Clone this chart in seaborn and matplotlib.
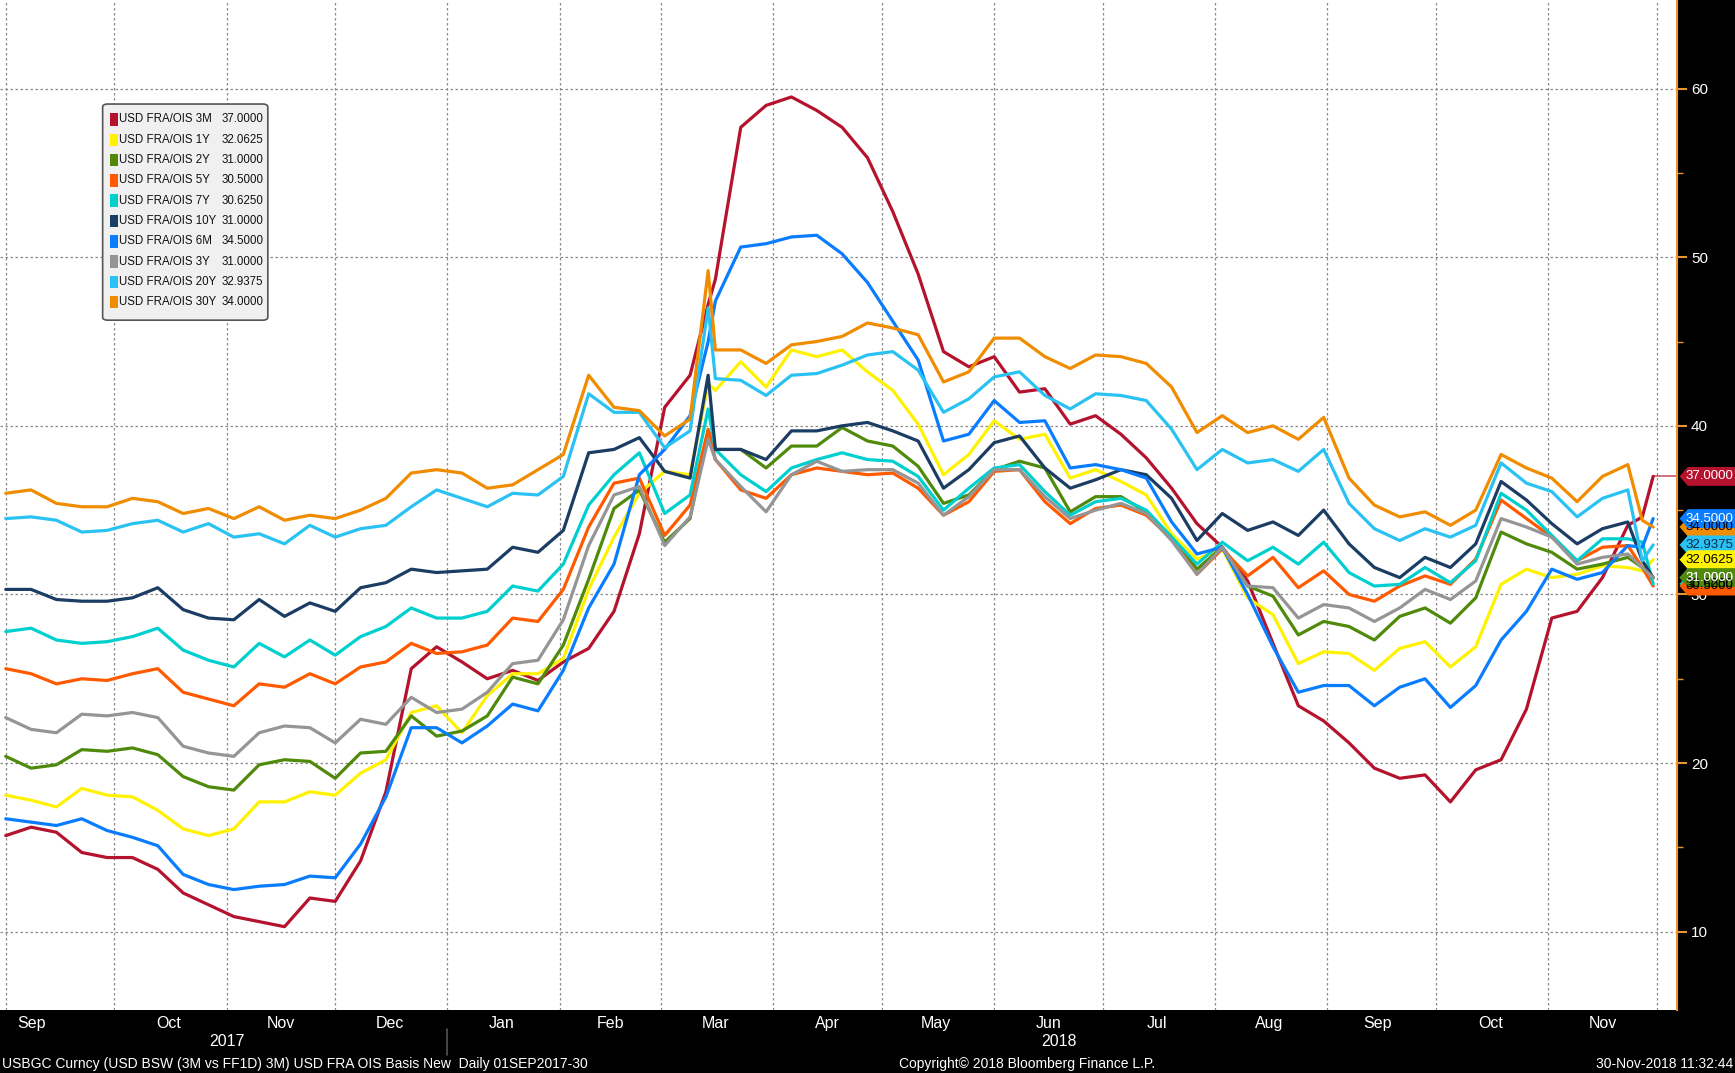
import pandas as pd
import seaborn as sns
import matplotlib.pyplot as plt
import matplotlib.dates as mdates
from matplotlib.patches import Polygon, FancyBboxPatch, Rectangle

# weekly readings (bp), 01SEP2017 - 30NOV2018
dates = [
    '2017-09-01', '2017-09-08', '2017-09-15', '2017-09-22', '2017-09-29',
    '2017-10-06', '2017-10-13', '2017-10-20', '2017-10-27', '2017-11-03',
    '2017-11-10', '2017-11-17', '2017-11-24', '2017-12-01', '2017-12-08',
    '2017-12-15', '2017-12-22', '2017-12-29', '2018-01-05', '2018-01-12',
    '2018-01-19', '2018-01-26', '2018-02-02', '2018-02-09', '2018-02-16',
    '2018-02-23', '2018-03-02', '2018-03-09', '2018-03-14', '2018-03-16',
    '2018-03-23', '2018-03-30', '2018-04-06', '2018-04-13', '2018-04-20',
    '2018-04-27', '2018-05-04', '2018-05-11', '2018-05-18', '2018-05-25',
    '2018-06-01', '2018-06-08', '2018-06-15', '2018-06-22', '2018-06-29',
    '2018-07-06', '2018-07-13', '2018-07-20', '2018-07-27', '2018-08-03',
    '2018-08-10', '2018-08-17', '2018-08-24', '2018-08-31', '2018-09-07',
    '2018-09-14', '2018-09-21', '2018-09-28', '2018-10-05', '2018-10-12',
    '2018-10-19', '2018-10-26', '2018-11-02', '2018-11-09', '2018-11-16',
    '2018-11-23', '2018-11-27', '2018-11-30',
]

fra_3m = [15.7, 16.2, 15.9, 14.7, 14.4, 14.4, 13.7, 12.3, 11.6, 10.9, 10.6, 10.3,
          12.0, 11.8, 14.2, 18.3, 25.6, 26.9, 26.0, 25.0, 25.5, 24.9, 26.0,
          26.8, 29.0, 33.6, 41.1, 43.0, 47.2, 48.7, 57.7, 59.0, 59.5, 58.7, 57.7, 55.9,
          52.7, 49.0, 44.4, 43.5, 44.1, 42.0, 42.2, 40.1, 40.6, 39.5, 38.1, 36.3, 34.2,
          32.8, 30.8, 27.1, 23.4, 22.5, 21.2, 19.7, 19.1, 19.3, 17.7,
          19.6, 20.2, 23.2, 28.6, 29.0, 31.0, 34.1, 34.6, 37.0]
fra_1y = [18.1, 17.8, 17.4, 18.5, 18.1, 18.0, 17.2, 16.1, 15.7, 16.1, 17.7, 17.7,
          18.3, 18.1, 19.4, 20.2, 23.0, 23.4, 21.8, 24.0, 25.3, 25.3, 26.2,
          30.3, 33.4, 36.0, 37.3, 37.1, 42.5, 42.1, 43.8, 42.3, 44.5, 44.1, 44.5, 43.2,
          42.1, 40.1, 37.1, 38.3, 40.3, 39.2, 39.5, 36.9, 37.4, 36.7, 35.9, 33.6, 32.1,
          32.7, 29.8, 28.8, 25.9, 26.6, 26.5, 25.5, 26.8, 27.2, 25.7,
          26.9, 30.6, 31.5, 31.0, 31.2, 31.7, 31.6, 31.4, 32.0625]
fra_2y = [20.4, 19.7, 19.9, 20.8, 20.7, 20.9, 20.5, 19.2, 18.6, 18.4, 19.9, 20.2,
          20.1, 19.1, 20.6, 20.7, 22.8, 21.6, 21.9, 22.8, 25.1, 24.7, 27.0,
          30.9, 35.1, 36.2, 33.1, 34.5, 39.7, 38.6, 38.6, 37.5, 38.8, 38.8, 39.9, 39.1,
          38.8, 37.6, 35.4, 35.9, 37.4, 37.9, 37.5, 34.9, 35.8, 35.8, 34.9, 33.4, 31.5,
          32.8, 30.5, 29.9, 27.6, 28.4, 28.1, 27.3, 28.7, 29.2, 28.3,
          29.8, 33.7, 33.0, 32.5, 31.5, 31.8, 32.2, 31.6, 31.0]
fra_5y = [25.6, 25.3, 24.7, 25.0, 24.9, 25.3, 25.6, 24.2, 23.8, 23.4, 24.7, 24.5,
          25.3, 24.7, 25.7, 26.0, 27.1, 26.5, 26.6, 27.0, 28.6, 28.4, 30.3,
          34.0, 36.6, 36.9, 33.5, 35.3, 39.8, 38.0, 36.2, 35.7, 37.1, 37.5, 37.3, 37.1,
          37.2, 36.3, 34.7, 35.5, 37.3, 37.4, 35.5, 34.2, 35.1, 35.3, 34.7, 33.3, 31.2,
          32.7, 31.1, 32.2, 30.4, 31.4, 30.0, 29.6, 30.5, 31.1, 30.6,
          32.1, 35.6, 34.5, 33.4, 32.0, 32.8, 32.9, 31.6, 30.5]
fra_7y = [27.8, 28.0, 27.3, 27.1, 27.2, 27.5, 28.0, 26.7, 26.1, 25.7, 27.1, 26.3,
          27.3, 26.4, 27.5, 28.1, 29.2, 28.6, 28.6, 29.0, 30.5, 30.2, 31.8,
          35.3, 37.1, 38.4, 34.8, 35.9, 41.0, 38.6, 37.1, 36.1, 37.5, 38.0, 38.4, 38.0,
          37.9, 37.0, 35.0, 36.3, 37.5, 37.7, 36.1, 34.7, 35.5, 35.7, 35.0, 33.4, 31.8,
          33.1, 32.0, 32.8, 31.8, 33.1, 31.3, 30.5, 30.6, 31.6, 30.7,
          32.0, 36.0, 35.0, 33.5, 32.0, 33.3, 33.3, 33.1, 30.625]
fra_10y = [30.3, 30.3, 29.7, 29.6, 29.6, 29.8, 30.4, 29.1, 28.6, 28.5, 29.7, 28.7,
           29.5, 29.0, 30.4, 30.7, 31.5, 31.3, 31.4, 31.5, 32.8, 32.5, 33.8,
           38.4, 38.6, 39.3, 37.3, 36.9, 43.0, 38.6, 38.6, 38.0, 39.7, 39.7, 40.0, 40.2,
           39.7, 39.1, 36.3, 37.4, 39.0, 39.4, 37.5, 36.3, 36.8, 37.4, 37.1, 35.7, 33.2,
           34.8, 33.8, 34.3, 33.5, 35.0, 33.0, 31.6, 31.0, 32.2, 31.6,
           33.0, 36.7, 35.6, 34.2, 33.0, 33.9, 34.3, 32.0, 31.0]
fra_6m = [16.7, 16.5, 16.3, 16.7, 16.0, 15.6, 15.1, 13.4, 12.8, 12.5, 12.7, 12.8,
          13.3, 13.2, 15.2, 18.0, 22.1, 22.1, 21.2, 22.2, 23.5, 23.1, 25.5,
          29.2, 31.8, 37.1, 38.6, 40.6, 45.0, 47.4, 50.6, 50.8, 51.2, 51.3, 50.2, 48.5,
          46.2, 43.9, 39.1, 39.5, 41.5, 40.2, 40.3, 37.5, 37.7, 37.4, 36.9, 34.3, 32.4,
          32.8, 30.0, 26.9, 24.2, 24.6, 24.6, 23.4, 24.5, 25.0, 23.3,
          24.6, 27.3, 29.0, 31.5, 30.9, 31.3, 32.9, 32.8, 34.5]
fra_3y = [22.7, 22.0, 21.8, 22.9, 22.8, 23.0, 22.7, 21.0, 20.6, 20.4, 21.8, 22.2,
          22.1, 21.2, 22.6, 22.3, 23.9, 23.0, 23.2, 24.2, 25.9, 26.1, 28.5,
          32.9, 35.9, 36.4, 32.9, 34.6, 39.2, 38.0, 36.4, 34.9, 37.1, 37.9, 37.3, 37.4,
          37.4, 36.6, 34.7, 35.8, 37.4, 37.4, 35.8, 34.5, 35.0, 35.4, 34.8, 33.2, 31.2,
          32.8, 30.5, 30.4, 28.6, 29.4, 29.2, 28.4, 29.2, 30.3, 29.7,
          30.8, 34.5, 34.0, 33.4, 31.8, 32.2, 32.4, 31.6, 31.0]
fra_20y = [34.5, 34.6, 34.4, 33.7, 33.8, 34.2, 34.4, 33.7, 34.2, 33.4, 33.6, 33.0,
           34.1, 33.4, 33.9, 34.1, 35.2, 36.2, 35.7, 35.2, 36.0, 35.9, 37.0,
           41.9, 40.8, 40.8, 38.7, 39.7, 47.0, 42.8, 42.7, 41.8, 43.0, 43.1, 43.6, 44.2,
           44.4, 43.3, 40.8, 41.6, 42.9, 43.2, 41.8, 41.0, 41.9, 41.8, 41.5, 39.8, 37.4,
           38.6, 37.8, 38.0, 37.3, 38.6, 35.4, 33.9, 33.2, 33.9, 33.4,
           34.1, 37.8, 36.6, 36.1, 34.6, 35.7, 36.2, 32.0, 32.9375]
fra_30y = [36.0, 36.2, 35.4, 35.2, 35.2, 35.7, 35.5, 34.8, 35.1, 34.5, 35.2, 34.4,
           34.7, 34.5, 35.0, 35.7, 37.2, 37.4, 37.2, 36.3, 36.5, 37.4, 38.3,
           43.0, 41.1, 40.9, 39.4, 40.4, 49.2, 44.5, 44.5, 43.7, 44.8, 45.0, 45.3, 46.1,
           45.8, 45.4, 42.6, 43.2, 45.2, 45.2, 44.1, 43.4, 44.2, 44.1, 43.7, 42.3, 39.6,
           40.6, 39.6, 40.0, 39.2, 40.5, 36.9, 35.3, 34.6, 34.9, 34.1,
           35.0, 38.3, 37.5, 36.9, 35.5, 37.0, 37.7, 34.4, 34.0]

series_names = ['USD FRA/OIS 3M', 'USD FRA/OIS 1Y', 'USD FRA/OIS 2Y', 'USD FRA/OIS 5Y',
                'USD FRA/OIS 7Y', 'USD FRA/OIS 10Y', 'USD FRA/OIS 6M', 'USD FRA/OIS 3Y',
                'USD FRA/OIS 20Y', 'USD FRA/OIS 30Y']
series_values = [fra_3m, fra_1y, fra_2y, fra_5y, fra_7y, fra_10y, fra_6m, fra_3y, fra_20y, fra_30y]
colors = ['#b5122e', '#fff200', '#4f8a0b', '#ff5a00', '#00cfcf', '#1b3d63',
          '#0a7dff', '#959595', '#2ac2f2', '#f08c00']
tag_text_colors = ['white', 'black', 'white', 'black', 'black', 'white',
                   'white', 'black', '#0b2a4a', 'black']
# tags drawn bottom first
tag_order = [7, 5, 4, 3, 9, 8, 1, 2, 6, 0]

month_ticks = ['2017-09-08', '2017-10-16', '2017-11-16', '2017-12-16', '2018-01-16',
               '2018-02-15', '2018-03-16', '2018-04-16', '2018-05-16', '2018-06-16',
               '2018-07-16', '2018-08-16', '2018-09-15', '2018-10-16', '2018-11-16']
month_labels = ['Sep', 'Oct', 'Nov', 'Dec', 'Jan', 'Feb', 'Mar', 'Apr', 'May', 'Jun',
                'Jul', 'Aug', 'Sep', 'Oct', 'Nov']


def create_plot():
    wide = pd.DataFrame(dict(zip(series_names, series_values)))
    wide['date'] = pd.to_datetime(dates)
    df = wide.melt(id_vars='date', var_name='series', value_name='bp')

    sns.set_theme(style='white')
    plt.rcParams['font.family'] = ['Liberation Sans', 'DejaVu Sans']

    fig = plt.figure(figsize=(17.35, 10.73), dpi=100, facecolor='black')
    ax = fig.add_axes([0, 63 / 1073, 1677 / 1735, 1010 / 1073])
    ax.set_facecolor('white')

    sns.lineplot(data=df, x='date', y='bp', hue='series', hue_order=series_names,
                 palette=dict(zip(series_names, colors)), linewidth=2.3,
                 estimator=None, legend=False, ax=ax)

    x0 = pd.Timestamp('2017-08-30 10:00')
    x1 = pd.Timestamp('2018-12-06 14:00')
    ax.set_xlim(x0, x1)
    ax.set_ylim(5.36, 65.25)
    ax.set_xlabel('')
    ax.set_ylabel('')

    # last value line for 3M
    last_date = pd.Timestamp(dates[-1])
    ax.plot([last_date, x1], [fra_3m[-1], fra_3m[-1]], color=colors[0], lw=1.2, alpha=0.7)

    # y axis on the right
    ax.yaxis.tick_right()
    ax.set_yticks([10, 20, 30, 40, 50, 60])
    ax.set_yticks([15, 25, 35, 45, 55], minor=True)
    ax.tick_params(axis='y', which='major', colors='#e8962e', labelcolor='white',
                   length=7, width=1.5, labelsize=11, pad=3)
    ax.tick_params(axis='y', which='minor', colors='#e8962e', length=4, width=1)

    # x axis: month boundaries as ticks/grid, labels mid-month
    ax.xaxis.set_major_locator(mdates.MonthLocator())
    ax.xaxis.set_major_formatter(plt.NullFormatter())
    ax.set_xticks(pd.to_datetime(month_ticks), month_labels, minor=True)
    ax.tick_params(axis='x', which='major', colors='#777777', length=5, width=1)
    ax.tick_params(axis='x', which='minor', length=0, labelcolor='white',
                   labelsize=11.5, pad=4)

    ax.grid(True, which='major', linestyle=(0, (2, 2)), color='#8a8a8a', linewidth=0.9)
    for side in ['top', 'left', 'bottom']:
        ax.spines[side].set_visible(False)
    ax.spines['right'].set_color('#e8962e')
    ax.spines['right'].set_linewidth(1.5)

    # years row
    xt = ax.get_xaxis_transform()
    ax.text(mdates.date2num(pd.Timestamp('2017-11-01')), -0.031, '2017', transform=xt,
            ha='center', va='center', color='white', fontsize=11.5, clip_on=False)
    ax.text(mdates.date2num(pd.Timestamp('2018-06-19')), -0.031, '2018', transform=xt,
            ha='center', va='center', color='white', fontsize=11.5, clip_on=False)
    jan = mdates.date2num(pd.Timestamp('2018-01-01'))
    ax.plot([jan, jan], [-0.019, -0.045], transform=xt, color='#555555', lw=1.2,
            clip_on=False)

    # last value tags on the right axis
    yt = ax.get_yaxis_transform()
    for i in tag_order:
        v = series_values[i][-1]
        h = 0.56
        poly = Polygon([(1.0015, v), (1.0065, v + h), (1.05, v + h), (1.05, v - h),
                        (1.0065, v - h)], closed=True, transform=yt, clip_on=False,
                       facecolor=colors[i], edgecolor='none', zorder=6)
        ax.add_patch(poly)
        ax.text(1.0195, v, f'{v:.4f}', transform=yt, ha='center', va='center',
                color=tag_text_colors[i], fontsize=9.5, zorder=7, clip_on=False)

    # legend box
    box = FancyBboxPatch((0.0612, 0.683), 0.0985, 0.214,
                         boxstyle='round,pad=0,rounding_size=0.003',
                         transform=ax.transAxes, facecolor='#f0f0f0',
                         edgecolor='#555555', linewidth=1.2, zorder=8)
    ax.add_patch(box)
    for i, name in enumerate(series_names):
        y = 1 - (119.5 + i * 20.3) / 1010
        ax.add_patch(Rectangle((0.0656, y - 0.0062), 0.0048, 0.0124,
                               transform=ax.transAxes, facecolor=colors[i],
                               edgecolor='none', zorder=9))
        ax.text(0.0712, y, name, transform=ax.transAxes, ha='left', va='center',
                fontsize=8.3, color='#111111', zorder=9)
        ax.text(0.1320, y, f'{series_values[i][-1]:.4f}', transform=ax.transAxes,
                ha='left', va='center', fontsize=8.3, color='#111111', zorder=9)

    # footer
    fig.text(0.001, 0.0085, 'USBGC Curncy (USD BSW (3M vs FF1D) 3M) USD FRA OIS Basis New  Daily 01SEP2017-30',
             ha='left', va='center', color='white', fontsize=10)
    fig.text(0.592, 0.0085, 'Copyright\u00a9 2018 Bloomberg Finance L.P.',
             ha='center', va='center', color='white', fontsize=10)
    fig.text(0.999, 0.0085, '30-Nov-2018 11:32:44',
             ha='right', va='center', color='white', fontsize=10)

    fig.savefig('out.png', dpi=100, facecolor='black')


if __name__ == "__main__":
    create_plot()
